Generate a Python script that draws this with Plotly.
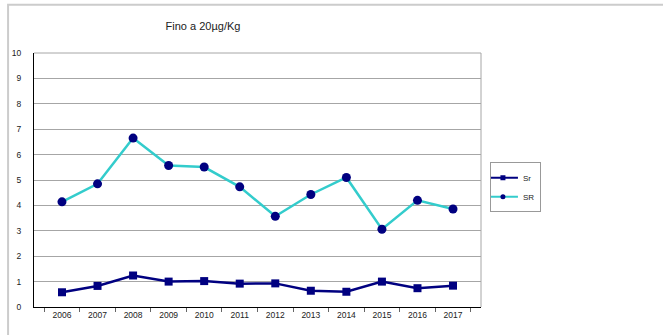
import plotly.graph_objects as go

years = ["2006", "2007", "2008", "2009", "2010", "2011",
         "2012", "2013", "2014", "2015", "2016", "2017"]
sr_lower = [0.58, 0.83, 1.24, 1.00, 1.02, 0.92, 0.93, 0.64, 0.60, 1.00, 0.74, 0.84]
sr_upper = [4.14, 4.85, 6.65, 5.57, 5.51, 4.73, 3.57, 4.43, 5.10, 3.06, 4.20, 3.86]
y_ticks = list(range(0, 11))

navy = "#000080"
teal = "#33CCCC"
grid = "#A6A6A6"
font = "Liberation Sans"

fig = go.Figure()
fig.add_trace(go.Scatter(
    x=years, y=sr_lower, name="Sr", mode="lines+markers", showlegend=False,
    line=dict(color=navy, width=2.5),
    marker=dict(symbol="square", size=8, color=navy),
))
fig.add_trace(go.Scatter(
    x=years, y=sr_upper, name="SR", mode="lines+markers", showlegend=False,
    line=dict(color=teal, width=2.5),
    marker=dict(symbol="circle", size=9, color=navy),
))
# compact legend entries with small symbols
fig.add_trace(go.Scatter(
    x=[None], y=[None], name="Sr", mode="lines+markers",
    line=dict(color=navy, width=2),
    marker=dict(symbol="square", size=5, color=navy),
))
fig.add_trace(go.Scatter(
    x=[None], y=[None], name="SR", mode="lines+markers",
    line=dict(color=teal, width=2),
    marker=dict(symbol="circle", size=5, color=navy),
))

fig.update_layout(
    width=663, height=335,
    margin=dict(l=29, r=182, t=53, b=28),
    paper_bgcolor="white", plot_bgcolor="white",
    font=dict(family=font, size=8, color="#222222"),
    title=dict(text="Fino a 20µg/Kg", x=203 / 663, xanchor="center",
               y=1 - 26 / 335, yanchor="middle",
               font=dict(family=font, size=11, color="#222222")),
    showlegend=True,
    legend=dict(x=1.02, y=0.57, xanchor="left", yanchor="top",
                bordercolor="#999999", borderwidth=1, bgcolor="white",
                font=dict(family=font, size=8, color="#222222"),
                itemwidth=30, tracegroupgap=0, indentation=-8),
    xaxis=dict(type="category", showgrid=False, zeroline=False,
               showline=True, linecolor="black", linewidth=1,
               ticks="outside", tickson="boundaries", ticklen=4,
               tickcolor="#666666", tickfont=dict(size=8.5)),
    yaxis=dict(range=[0, 10], tickvals=y_ticks, showgrid=True,
               gridcolor=grid, gridwidth=1, zeroline=False,
               showline=True, linecolor="black", linewidth=1,
               ticks="", ticklabelstandoff=10, tickfont=dict(size=8.5)),
    shapes=[
        # right and top frame of the plot area
        dict(type="line", xref="paper", yref="paper", x0=1, x1=1, y0=0, y1=1,
             line=dict(color=grid, width=1)),
        dict(type="line", xref="paper", yref="paper", x0=0, x1=1, y0=1, y1=1,
             line=dict(color=grid, width=1)),
        # outer chart border
        dict(type="rect", xref="paper", yref="paper",
             x0=-0.058, x1=1.5, y0=-0.2, y1=1.19,
             line=dict(color="#CCCCCC", width=2), layer="below"),
    ],
)

fig.write_html("out.html")
